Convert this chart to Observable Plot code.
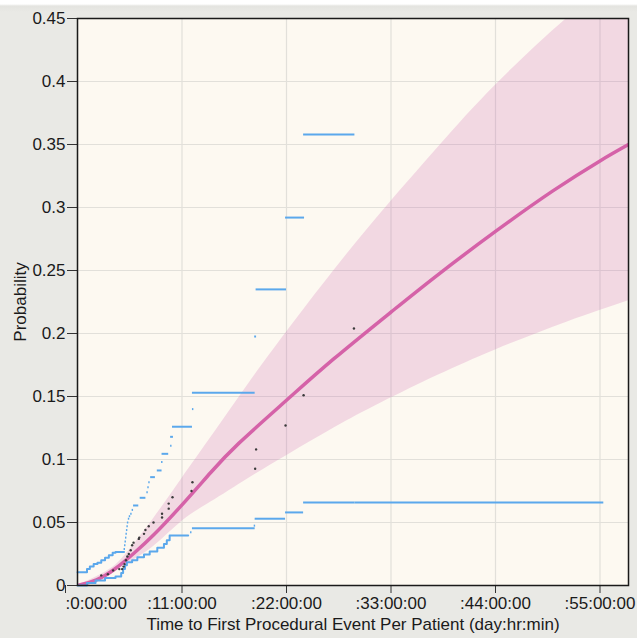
<!DOCTYPE html>
<html>
<head>
<meta charset="utf-8">
<script src="https://cdn.jsdelivr.net/npm/d3@7"></script>
<script src="https://cdn.jsdelivr.net/npm/@observablehq/plot@0.6"></script>
<style>
  html, body { margin: 0; padding: 0; }
  body {
    width: 637px; height: 638px; overflow: hidden;
    background: linear-gradient(#ffffff 0px, #ffffff 4px, #e4e4e0 6px, #e9e9e5 12px, #e9e9e5 100%);
    font-family: "Liberation Sans", Arial, sans-serif;
  }
  #chart svg { display: block; }
</style>
</head>
<body>
<div id="chart"></div>
<script>
// ---- axis ticks ----
const xTicks = [0, 11, 22, 33, 44, 55];
const yTicks = [0, 0.05, 0.1, 0.15, 0.2, 0.25, 0.3, 0.35, 0.4, 0.45];

// ---- fitted distribution (pink curve) ----
const fitT = [0, 2, 4, 6, 8, 11, 14, 17, 22, 27, 33, 38, 44, 50, 55, 58];
const fitP = [0, 0.0045, 0.0135, 0.026, 0.040, 0.064, 0.0895, 0.113, 0.147, 0.180, 0.217, 0.247, 0.281, 0.313, 0.337, 0.350];

// ---- confidence band of fit ----
const bandT     = [0, 3, 5, 8, 11, 14, 18, 22, 27, 32, 38, 44, 51.5, 58];
const bandUpper = [0, 0.011, 0.024, 0.053, 0.085, 0.117, 0.160, 0.201, 0.250, 0.296, 0.348, 0.397, 0.450, 0.489];
const bandLower = [0, 0.007, 0.016, 0.031, 0.051, 0.066, 0.085, 0.103, 0.125, 0.145, 0.167, 0.187, 0.209, 0.226];

// ---- nonparametric estimates (black dots) ----
const dotT = [2.5, 3.2, 3.75, 4.4, 4.7, 4.85, 4.95, 5.1, 5.25, 5.4, 5.6, 5.75, 5.9, 6.45, 6.5, 7.0, 7.15, 7.5, 8.0, 8.9, 8.9, 9.6, 9.6, 10.0, 12.0, 12.1, 18.7, 18.8, 21.9, 23.8, 29.1];
const dotP = [0.008, 0.009, 0.012, 0.013, 0.013, 0.015, 0.017, 0.020, 0.023, 0.025, 0.028, 0.032, 0.034, 0.037, 0.038, 0.041, 0.044, 0.047, 0.050, 0.054, 0.057, 0.061, 0.065, 0.070, 0.075, 0.082, 0.0926, 0.108, 0.127, 0.151, 0.204];

// ---- upper nonparametric bound: early staircase ----
const upStepT = [0, 1.0, 1.3, 1.7, 2.1, 2.5, 2.9, 3.3, 3.7, 4.0, 4.9];
const upStepP = [0.0106, 0.013, 0.015, 0.017, 0.018, 0.020, 0.022, 0.024, 0.026, 0.0265, 0.0265];
// ---- upper bound: segments (start, end, probability) ----
const upSegT1 = [4.9, 4.95, 5.0, 5.05, 5.1, 5.15, 5.2, 5.25, 5.35, 5.45, 5.6, 5.75, 5.9, 6.6, 7.3, 7.4, 7.5, 7.7, 8.4, 8.85, 8.9, 9.8, 9.8, 10.0, 12.1, 12.1, 18.65, 18.8, 21.9, 23.8];
const upSegT2 = [5.05, 5.1, 5.15, 5.2, 5.25, 5.3, 5.35, 5.4, 5.5, 5.6, 5.75, 5.9, 6.45, 7.2, 7.45, 7.55, 7.65, 8.2, 8.9, 9.0, 9.6, 9.95, 10.1, 12.1, 12.25, 18.7, 18.85, 22.0, 23.9, 29.2];
const upSegP  = [0.029, 0.032, 0.035, 0.038, 0.041, 0.044, 0.047, 0.050, 0.053, 0.055, 0.057, 0.060, 0.0635, 0.0696, 0.074, 0.078, 0.082, 0.086, 0.0913, 0.098, 0.1045, 0.111, 0.118, 0.126, 0.140, 0.153, 0.1976, 0.235, 0.292, 0.358];

// ---- lower nonparametric bound: early staircase ----
const loStepT = [0, 1.0, 1.9, 2.9, 4.0, 4.6, 4.8, 5.0, 5.2, 5.75, 6.3, 7.0, 7.6, 8.4, 9.1, 9.4, 9.7, 11.65];
const loStepP = [0, 0.002, 0.004, 0.006, 0.0072, 0.010, 0.013, 0.016, 0.0185, 0.020, 0.0225, 0.0246, 0.027, 0.030, 0.033, 0.036, 0.0397, 0.0397];
// ---- lower bound: segments ----
const loSegT1 = [11.9, 12.1, 18.6, 18.7, 21.9, 23.8, 29.2];
const loSegT2 = [12.05, 18.7, 18.75, 21.9, 23.8, 29.2, 55.4];
const loSegP  = [0.0423, 0.0455, 0.0475, 0.053, 0.058, 0.0659, 0.0659];

// ---- labels ----
const xLabel = "Time to First Procedural Event Per Patient (day:hr:min)";
const yLabel = "Probability";

// build tables
const fit = fitT.map((t, i) => ({t, p: fitP[i]}));
const band = bandT.map((t, i) => ({t, lo: bandLower[i], hi: bandUpper[i]}));
const dots = dotT.map((t, i) => ({t, p: dotP[i]}));
const upStep = upStepT.map((t, i) => ({t, p: upStepP[i]}));
const loStep = loStepT.map((t, i) => ({t, p: loStepP[i]}));
const upSeg = upSegT1.map((t1, i) => ({t1, t2: upSegT2[i], p: upSegP[i]}));
const loSeg = loSegT1.map((t1, i) => ({t1, t2: loSegT2[i], p: loSegP[i]}));

const blue = "#5ba8ec";
const pink = "#d562a8";
const fmtX = d => `:${d}:00:00`;

const chart = Plot.plot({
  width: 637,
  height: 638,
  marginLeft: 77,
  marginRight: 9,
  marginTop: 18,
  marginBottom: 53,
  style: {background: "transparent", fontFamily: "'Liberation Sans', Arial, sans-serif", fontSize: "17px", color: "#1a1a1a"},
  x: {domain: [0, 58]},
  y: {domain: [0, 0.45]},
  marks: [
    Plot.frame({fill: "#fdf9f1", stroke: null}),
    Plot.gridX(xTicks, {stroke: "#e2e0da", strokeOpacity: 1, strokeWidth: 1.2}),
    Plot.gridY(yTicks, {stroke: "#e2e0da", strokeOpacity: 1, strokeWidth: 1.2}),
    Plot.area(band, {x1: "t", y1: "lo", x2: "t", y2: "hi", fill: "rgb(200,85,168)", fillOpacity: 0.2, curve: "natural", clip: true}),
    Plot.line(fit, {x: "t", y: "p", stroke: pink, strokeWidth: 3.5, curve: "natural", clip: true}),
    Plot.line(upStep, {x: "t", y: "p", stroke: blue, strokeWidth: 2, curve: "step-after"}),
    Plot.line(loStep, {x: "t", y: "p", stroke: blue, strokeWidth: 2, curve: "step-after"}),
    Plot.ruleY(upSeg, {x1: "t1", x2: "t2", y: "p", stroke: blue, strokeWidth: 2}),
    Plot.ruleY(loSeg, {x1: "t1", x2: "t2", y: "p", stroke: blue, strokeWidth: 2}),
    Plot.dot(dots, {x: "t", y: "p", r: 1.2, fill: "#3a3a3a", stroke: null}),
    Plot.axisX(xTicks.slice(0, 1), {tickFormat: fmtX, tickSize: 8, tickPadding: 3, label: null, stroke: "#333", fontSize: 17, textAnchor: "start", dx: -12}),
    Plot.axisX(xTicks.slice(1), {tickFormat: fmtX, tickSize: 8, tickPadding: 3, label: null, stroke: "#333", fontSize: 17}),
    Plot.axisY(yTicks, {tickFormat: d => String(d), tickSize: 10, tickPadding: 2, label: null, stroke: "#333", fontSize: 17}),
    Plot.text([xLabel], {frameAnchor: "bottom", dy: 39, lineAnchor: "middle", textAnchor: "middle", fontSize: 17, fill: "#1a1a1a"}),
    Plot.text([yLabel], {frameAnchor: "left", dx: -57, rotate: -90, lineAnchor: "middle", textAnchor: "middle", fontSize: 17, fill: "#1a1a1a"}),
    Plot.frame({stroke: "#1a1a1a", strokeWidth: 1.5})
  ]
});
document.getElementById("chart").append(chart);
</script>
</body>
</html>
